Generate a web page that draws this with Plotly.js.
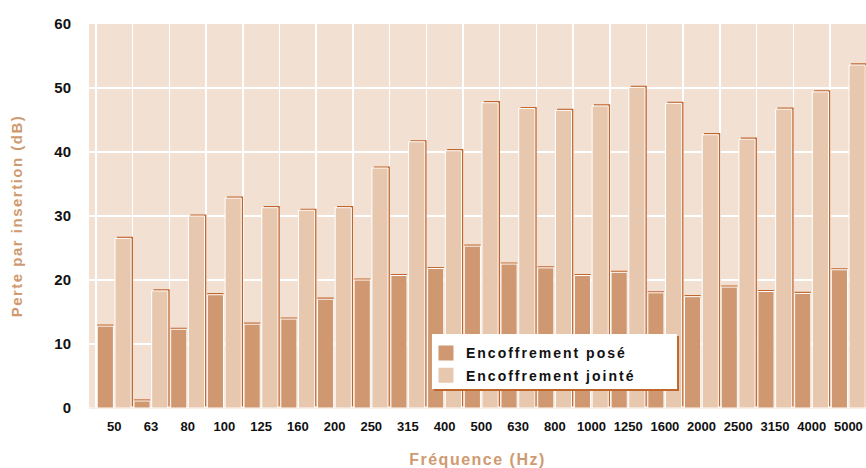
<!DOCTYPE html>
<html>
<head>
<meta charset="utf-8">
<script src="https://cdn.plot.ly/plotly-3.0.1.min.js"></script>
<style>
  html, body { margin: 0; padding: 0; background: #fff; }
  #chart { width: 866px; height: 468px; }
  .legendtext { letter-spacing: 2px; }
  .g-xtitle text, .g-ytitle text { letter-spacing: 1.5px; }
</style>
</head>
<body>
<div id="chart"></div>
<script>
const categories = ['50','63','80','100','125','160','200','250','315','400','500','630','800','1000','1250','1600','2000','2500','3150','4000','5000'];
const pose   = [12.8, 1.1, 12.3, 17.7, 13.1, 13.9, 17.0, 20.0, 20.7, 21.8, 25.3, 22.5, 21.9, 20.7, 21.2, 18.0, 17.4, 18.9, 18.2, 17.9, 21.6];
const jointe = [26.5, 18.3, 30.0, 32.8, 31.3, 30.9, 31.3, 37.5, 41.6, 40.2, 47.7, 46.8, 46.5, 47.2, 50.1, 47.6, 42.7, 42.0, 46.7, 49.4, 53.6];
const yTicks = [0, 10, 20, 30, 40, 50, 60];
const seriesNames = ['Encoffrement posé', 'Encoffrement jointé'];

const idx = categories.map((c, i) => i);
const colPose = '#d09870';
const colJointe = '#e7c7ad';
const colShadow = '#c0652c';
const bg = '#f2e0d3';

const shadowLift = 0.25;
const traces = [
  { type: 'bar', x: idx, y: pose, base: shadowLift, width: 0.44, offset: -0.465,
    marker: { color: colShadow }, showlegend: false, hoverinfo: 'skip' },
  { type: 'bar', x: idx, y: jointe, base: shadowLift, width: 0.44, offset: 0.068,
    marker: { color: colShadow }, showlegend: false, hoverinfo: 'skip' },
  { type: 'bar', x: idx, y: pose, width: 0.44, offset: -0.465, name: seriesNames[0],
    marker: { color: colPose, line: { color: '#ffffff', width: 1 } }, showlegend: false },
  { type: 'bar', x: idx, y: jointe, width: 0.44, offset: 0.018, name: seriesNames[1],
    marker: { color: colJointe, line: { color: '#ffffff', width: 1 } }, showlegend: false },
  { type: 'scatter', mode: 'markers', x: [null], y: [null], name: seriesNames[0], legendgroup: 'a',
    marker: { symbol: 'square', size: 15, color: colPose } },
  { type: 'scatter', mode: 'markers', x: [null], y: [null], name: seriesNames[1], legendgroup: 'b',
    marker: { symbol: 'square', size: 15, color: colJointe } }
];

const layout = {
  width: 866, height: 468,
  margin: { l: 89, r: 0, t: 24, b: 60 },
  paper_bgcolor: '#ffffff',
  plot_bgcolor: bg,
  barmode: 'overlay',
  showlegend: true,
  font: { family: 'Liberation Sans, Arial, sans-serif', size: 13, color: '#111' },
  xaxis: {
    type: 'linear',
    range: [-0.69, 20.48],
    tickmode: 'array', tickvals: idx, ticktext: categories,
    showgrid: false, zeroline: false, showline: false,
    ticks: 'outside', ticklen: 6, tickcolor: 'rgba(0,0,0,0)',
    tickfont: { family: 'Liberation Sans, Arial, sans-serif', size: 13, weight: 'bold', color: '#111' },
    minor: { tickmode: 'linear', tick0: -0.5, dtick: 1, showgrid: true, gridcolor: '#ffffff', gridwidth: 1.5, ticks: '' },
    title: { text: 'Fréquence (Hz)', standoff: 22,
      font: { family: 'Liberation Sans, Arial, sans-serif', size: 16, weight: 'bold', color: '#cf9a70' } },
    fixedrange: true
  },
  yaxis: {
    range: [0, 60],
    tickmode: 'array', tickvals: yTicks,
    showgrid: true, gridcolor: '#ffffff', gridwidth: 1.5,
    zeroline: true, zerolinecolor: '#f8eee6', zerolinewidth: 2,
    showline: false,
    ticks: 'outside', ticklen: 14, tickcolor: 'rgba(0,0,0,0)',
    tickfont: { family: 'Liberation Sans, Arial, sans-serif', size: 15, weight: 'bold', color: '#111' },
    title: { text: 'Perte par insertion (dB)', standoff: 28,
      font: { family: 'Liberation Sans, Arial, sans-serif', size: 15, weight: 'bold', color: '#cf9a70' } },
    fixedrange: true
  },
  legend: {
    x: 0.4337, y: 0.184, xanchor: 'left', yanchor: 'top',
    bgcolor: 'rgba(0,0,0,0)', borderwidth: 0,
    traceorder: 'grouped', tracegroupgap: 1,
    font: { family: 'Liberation Sans, Arial, sans-serif', size: 14, weight: 'bold', color: '#111' }
  },
  shapes: [
    { type: 'rect', xref: 'paper', yref: 'paper', layer: 'above',
      x0: 0.4440, x1: 0.7593, y0: 0.0443, y1: 0.1875,
      fillcolor: colShadow, line: { width: 0 } },
    { type: 'rect', xref: 'paper', yref: 'paper', layer: 'above',
      x0: 0.4414, x1: 0.7568, y0: 0.0495, y1: 0.1927,
      fillcolor: '#ffffff', line: { width: 0 } }
  ]
};

Plotly.newPlot('chart', traces, layout, { displayModeBar: false, staticPlot: true });
</script>
</body>
</html>
